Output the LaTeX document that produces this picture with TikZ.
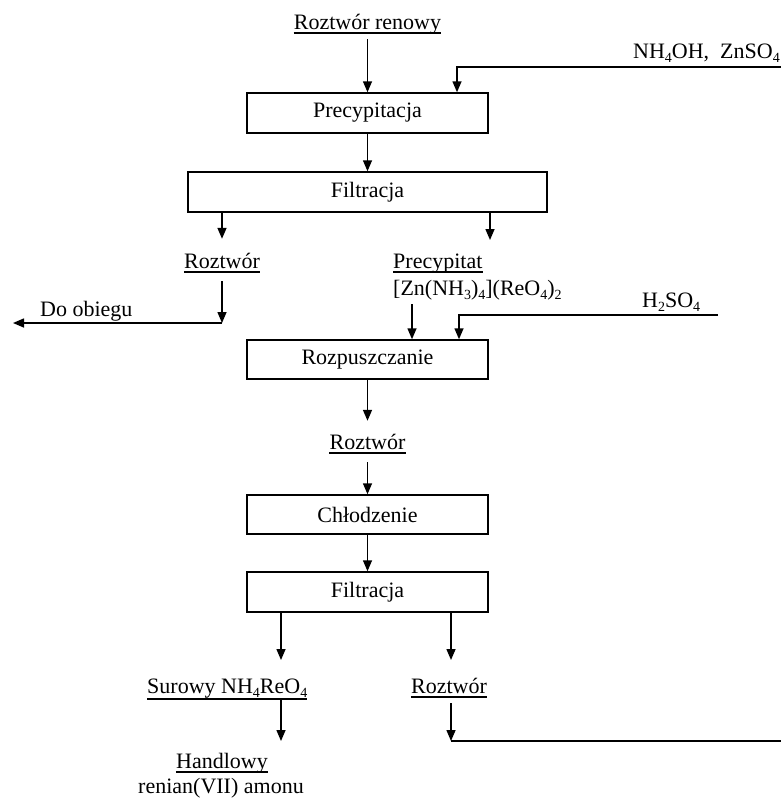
\documentclass[tikz,border=0pt]{standalone}
\usepackage{fontspec}
\setmainfont{Liberation Serif}
\usetikzlibrary{arrows.meta}
% chemical subscript: smaller and lowered
\newcommand\subs[1]{\raisebox{-4pt}{\fontsize{14}{14}\selectfont #1}}

\begin{document}
\begin{tikzpicture}[x=1pt,y=-1pt,
  every node/.style={font=\fontsize{22}{26}\selectfont},
  stage/.style={draw, line width=1.5pt, minimum width=241pt, minimum height=40pt, inner sep=0pt},
  lbl/.style={inner sep=0pt, text height=15pt, text depth=5pt},
  arr/.style={line width=1.5pt, -{Triangle[width=9pt,length=11pt]}},
  flow/.style={line width=1.5pt},
  uline/.style={line width=1.2pt}]

\fill[white] (0,0) rectangle (781,798);
\path[use as bounding box] (0,0) rectangle (781,798);

% process stages and stream labels
\node[lbl, anchor=base] (rr) at (367.5,29) {Roztwór renowy};
\node[lbl, anchor=base east] (nh) at (780,58) {NH\subs{4}OH,\ \ ZnSO\subs{4}};
\node[stage] (prec) at (367.5,113) {Precypitacja};
\node[stage, minimum width=359pt] (filt1) at (367.5,192) {Filtracja};
\node[lbl, anchor=base] (roz1) at (222,268) {Roztwór};
\node[lbl, anchor=base west] (precyp) at (393,268) {Precypitat};
\node[lbl, anchor=base west] (form) at (393,295) {[Zn(NH\subs{3})\subs{4}](ReO\subs{4})\subs{2}};
\node[lbl, anchor=base west] (obieg) at (40,316) {Do obiegu};
\node[lbl, anchor=base west] (h2so4) at (642,307) {H\subs{2}SO\subs{4}};
\node[stage, minimum height=39pt] (rozp) at (367.5,359.5) {Rozpuszczanie};
\node[lbl, anchor=base] (roz2) at (367.5,449) {Roztwór};
\node[stage, minimum height=39pt] (chl) at (367.5,514.5) {Chłodzenie};
\node[stage] (filt2) at (367.5,592) {Filtracja};
\node[lbl, anchor=base west] (sur) at (147,693) {Surowy NH\subs{4}ReO\subs{4}};
\node[lbl, anchor=base] (roz3) at (449,693) {Roztwór};
\node[lbl, anchor=base] (handl) at (222,768) {Handlowy};
\node[lbl, anchor=base] (renian) at (221,793) {renian(VII) amonu};

% underlines
\foreach \n in {rr,roz1,precyp,roz2,roz3,handl}
  \draw[uline] ([yshift=-4pt]\n.base west) -- ([yshift=-4pt]\n.base east);
\draw[uline] ([yshift=-6pt]sur.base west) -- ([yshift=-6pt]sur.base east);

% free ends and turning points of the streams
\coordinate (nhin) at (781,67);
\coordinate (nhturn) at (457,67);
\coordinate (ptip) at (490,240);
\coordinate (out) at (13,323);
\coordinate (hin) at (718,315);
\coordinate (hturn) at (459,315);
\coordinate (s1) at (281,660);
\coordinate (s2) at (451,660);
\coordinate (h1) at (281,741);
\coordinate (ret) at (781,741);

% connectors
\draw[arr, shorten <=5pt] (rr.south) -- (prec.north);
\draw[arr] (nhin) -- (nhturn) -- (nhturn |- prec.north);
\draw[arr] (prec) -- (filt1);
\draw[arr, shorten >=14pt] (filt1.south -| roz1) -- (roz1.north);
\draw[arr] (filt1.south -| ptip) -- (ptip);
\draw[arr, shorten <=8pt] (roz1.south) -- (roz1.south |- out);
\draw[arr] (roz1.south |- out) -- (out);
\draw[arr, shorten <=4pt] ([xshift=19pt]form.south west) -- ([xshift=19pt]form.south west |- rozp.north);
\draw[arr] (hin) -- (hturn) -- (hturn |- rozp.north);
\draw[arr, shorten >=13pt] (rozp.south) -- (roz2.north);
\draw[arr, shorten <=8pt] (roz2.south) -- (chl.north);
\draw[arr] (chl) -- (filt2);
\draw[arr] (filt2.south -| s1) -- (s1);
\draw[arr] (filt2.south -| s2) -- (s2);
\draw[arr] (sur.south -| h1) -- (h1);
\draw[arr, shorten <=5pt] (roz3.south -| s2) -- (s2 |- ret);
\draw[flow] (s2 |- ret) -- (ret);
\end{tikzpicture}
\end{document}
